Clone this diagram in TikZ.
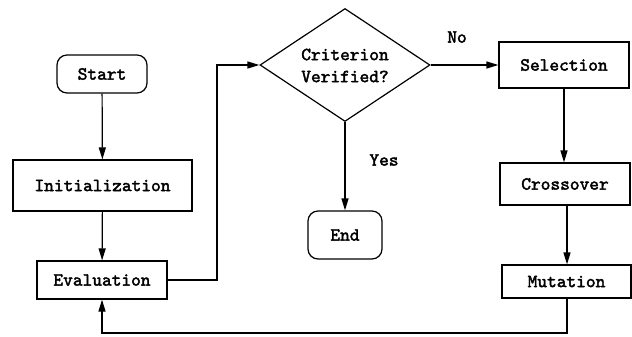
\documentclass[tikz,border=0pt]{standalone}
\usepackage{fontspec}
\newfontfamily\boldmono{lmmono10-regular.otf}[FakeBold=2.2]
\usetikzlibrary{shapes.geometric,arrows.meta}
\begin{document}
\begin{tikzpicture}[x=1pt,y=-1pt,
  every node/.style={font=\fontsize{18.5}{20}\selectfont\boldmono},
  box/.style={draw,line width=1.2pt,minimum width=#1,inner sep=0pt},
  term/.style={draw,line width=1.2pt,rounded corners=10pt,inner sep=0pt},
  conn/.style={line width=1.2pt,-{Triangle[length=12pt,width=7pt]}},
  plain/.style={line width=1.2pt}]
\useasboundingbox (0,0) rectangle (632,337);
\node[term,minimum width=90pt,minimum height=38pt] (start) at (102,74) {Start};
\node[box=179pt,minimum height=51pt] (init) at (102.5,185.5) {Initialization};
\node[box=130pt,minimum height=38pt] (eval) at (102,280) {Evaluation};
\node[draw,line width=1.2pt,diamond,minimum width=170pt,minimum height=113pt,inner sep=0pt,align=center] (crit) at (345,65) {};
\node[align=center] at (345,65.5) {Criterion\\[2pt]Verified?};
\node[term,minimum width=74pt,minimum height=48pt] (end) at (345,235) {End};
\node[box=130pt,minimum height=46pt] (sel) at (564,65) {Selection};
\node[box=130pt,minimum height=42pt] (cross) at (565,184) {Crossover};
\node[box=129pt,minimum height=33pt] (mut) at (566.5,281.5) {Mutation};
\node (no) at (457,37) {No};
\node (yes) at (384,160) {Yes};
\coordinate (c1) at (217,280);
\coordinate (c2) at (217,65);
\coordinate (c3) at (567,333);
\coordinate (c4) at (102,333);
\draw[conn] (eval.east) -- (c1) -- (c2) -- (crit.west);
\draw[conn] (start) -- (init);
\draw[conn] (init) -- (eval);
\draw[conn] (crit.south) -- (end.north);
\draw[conn] (crit.east) -- (sel.west);
\draw[conn] (sel.south) -- (sel.south |- cross.north);
\draw[conn] (cross.south -| c3) -- (mut.north -| c3);
\draw[conn] (mut.south -| c3) -- (c3) -- (c4) -- (eval.south);
\end{tikzpicture}
\end{document}
